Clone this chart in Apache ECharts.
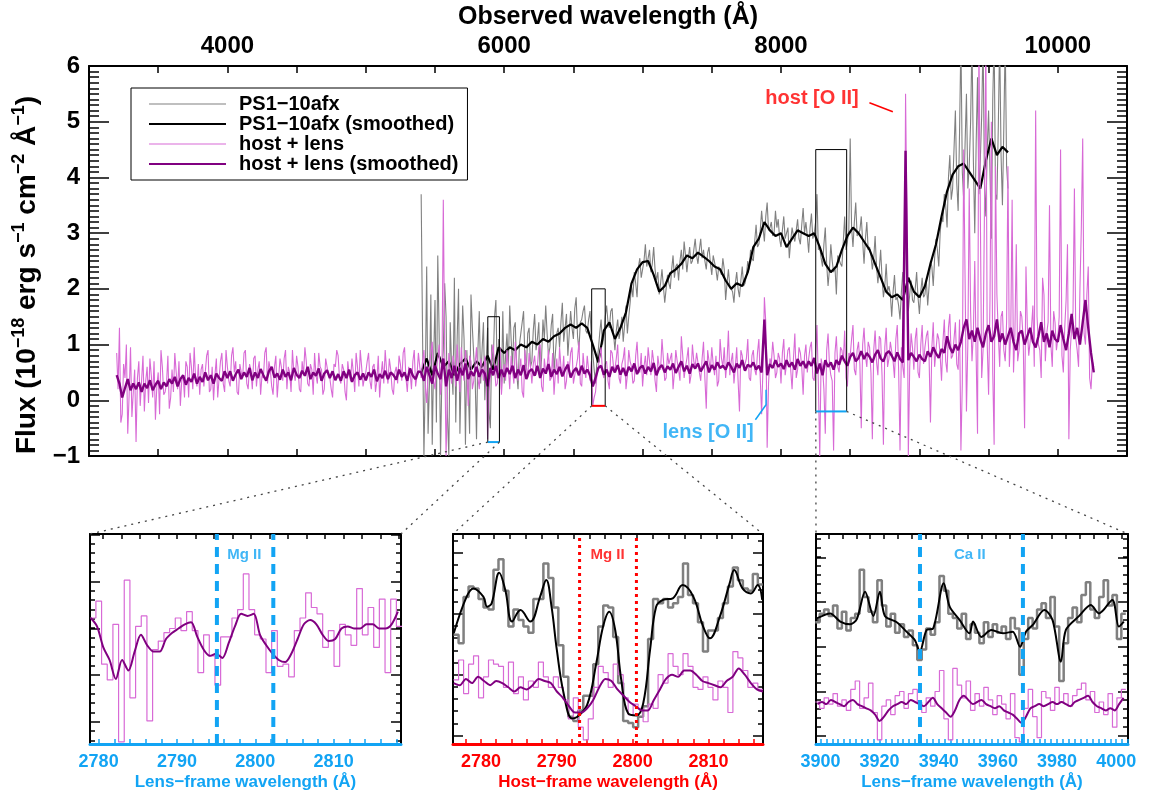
<!DOCTYPE html>
<html>
<head>
<meta charset="utf-8">
<script src="https://cdn.jsdelivr.net/npm/echarts@6/dist/echarts.min.js"></script>
<style>
  html, body { margin: 0; background: #fff; }
  #chart { width: 1152px; height: 798px; }
</style>
</head>
<body>
<div id="chart"></div>
<script>
// ---- main spectrum (observed frame) ----
// raw spectra are read on a 20 A grid plus the in-between 10 A offsets
const HOST_START = 3200, HOST_MID_START = 3210, HOST_STEP = 20;   // host + lens
const SN_START = 5400, SN_MID_START = 5410, SN_STEP = 20;         // PS1-10afx
const SN_SMOOTH_STEP = 40;

const hostRaw = [
  0.85,1.30,-0.25,0.40,-0.60,0.95,0.15,-0.75,0.70,0.35,
  -0.20,0.60,0.75,0.05,-0.35,0.50,0.90,0.10,0.30,-0.15,
  0.55,0.85,0.20,-0.10,0.45,0.70,0.05,0.60,0.95,0.25,
  0.10,0.65,0.50,0.90,0.20,0.00,0.75,0.40,0.85,0.15,
  0.60,0.25,0.95,0.70,0.10,0.50,0.85,0.30,0.65,0.20,
  0.80,0.55,0.10,0.40,0.95,0.70,0.25,0.60,0.05,0.75,
  0.35,0.90,0.60,0.15,0.50,0.80,0.20,0.70,0.95,0.30,
  0.65,0.10,0.45,0.85,0.55,0.20,0.75,0.40,0.05,0.60,
  0.80,0.30,0.55,0.00,0.45,0.75,0.15,0.60,0.90,0.25,
  0.50,0.85,0.20,0.65,0.35,0.05,0.70,0.90,0.30,0.55,
  0.10,0.60,0.80,0.35,0.95,0.15,0.50,0.70,0.25,0.85,
  0.40,0.90,-0.05,0.60,1.05,0.20,0.75,0.10,3.60,-1.00,
  0.85,0.30,0.65,1.00,0.15,0.55,0.90,-0.10,0.70,0.35,
  0.95,0.20,0.60,0.80,-0.70,0.45,1.00,0.25,0.70,0.10,
  0.65,0.90,0.20,0.55,1.05,0.35,0.75,0.05,0.60,0.85,
  0.30,0.80,0.60,1.00,0.15,0.50,0.90,0.40,0.10,0.75,
  0.95,0.45,0.20,0.70,0.85,0.30,0.60,1.05,0.25,0.55,
  0.80,0.35,-0.10,0.15,0.60,0.95,0.40,0.70,0.20,0.85,
  0.55,1.00,0.30,0.75,0.20,0.90,0.60,0.35,1.05,0.50,
  0.25,0.80,0.95,0.45,0.70,0.15,0.60,1.10,0.35,0.85,
  0.65,0.20,0.90,0.55,1.15,0.40,0.75,0.30,1.00,0.60,
  0.85,0.35,1.05,-0.15,0.70,0.95,0.45,0.25,1.10,0.60,
  0.40,1.25,0.70,0.30,0.95,-0.20,0.80,0.55,1.10,0.35,
  0.90,0.45,1.10,-0.25,1.85,-0.85,0.75,1.05,0.40,0.85,
  0.30,1.10,0.65,0.95,0.20,1.20,0.55,0.85,0.10,1.00,
  0.75,1.05,0.35,1.35,-1.00,0.60,-0.60,1.20,0.45,-0.90,
  1.15,0.50,0.90,1.25,0.25,0.80,1.35,0.45,1.05,-0.50,
  1.30,0.60,0.95,-0.70,1.25,0.45,1.10,-0.80,1.30,0.75,
  1.05,0.40,1.35,-0.90,0.60,5.50,-1.00,1.20,0.55,1.30,
  0.40,1.35,0.95,1.25,-0.40,1.40,0.60,1.10,0.35,1.45,
  0.50,1.55,0.80,1.40,0.55,-0.90,4.50,-0.20,3.80,0.70,
  2.50,-0.60,6.50,0.90,6.50,0.10,5.00,-0.80,1.90,0.60,
  1.60,0.70,4.20,1.20,0.50,2.80,0.90,1.50,-0.50,1.30,
  0.80,1.70,5.20,1.00,0.40,1.90,1.20,3.50,0.60,1.40,
  1.10,4.50,0.50,1.80,-0.70,1.30,3.80,0.90,2.00,4.70,
  1.00,2.40,0.20,0.60
];
const hostRawMid = [
  0.20,-0.40,0.65,1.00,0.10,-0.30,0.55,0.40,-0.10,0.80,
  0.35,-0.05,0.45,0.70,0.25,-0.25,0.60,0.15,0.80,0.05,
  0.15,0.50,0.70,0.35,0.05,0.60,0.85,0.20,0.40,0.65,
  0.55,0.25,0.80,0.15,0.60,0.45,0.05,0.70,0.30,0.90,
  0.35,0.80,0.50,0.15,0.65,0.40,0.90,0.20,0.55,0.75,
  0.25,0.70,0.45,0.85,0.30,0.55,0.10,0.80,0.40,0.60,
  0.75,0.20,0.50,0.90,0.35,0.60,0.15,0.45,0.70,0.25,
  0.55,0.85,0.30,0.60,0.10,0.75,0.45,0.20,0.65,0.90,
  0.40,0.65,0.15,0.70,0.35,0.50,0.85,0.25,0.60,0.40,
  0.70,0.35,0.60,0.15,0.80,0.45,0.30,0.55,0.75,0.20,
  0.50,0.30,0.65,0.85,0.40,0.60,0.20,0.90,0.45,0.60,
  0.70,0.25,0.50,0.85,0.35,0.60,1.00,0.40,0.90,0.15,
  0.55,0.80,0.25,0.60,0.95,0.35,0.55,0.80,0.20,0.65,
  0.40,0.75,0.35,0.55,0.15,0.85,0.60,0.30,0.95,0.50,
  0.35,0.60,0.80,0.30,0.70,0.55,0.15,0.90,0.40,0.60,
  0.65,0.45,0.95,0.25,0.75,0.60,0.35,0.85,0.50,0.30,
  0.60,0.80,0.35,0.55,0.95,0.45,0.75,0.30,0.85,0.40,
  0.55,0.70,0.05,0.45,0.80,0.50,0.65,0.35,0.90,0.60,
  0.75,0.40,0.65,0.95,0.45,0.70,0.30,0.80,0.55,0.85,
  0.60,0.45,0.70,0.90,0.35,0.80,0.55,0.75,0.40,0.65,
  0.85,0.50,0.70,0.35,0.80,0.60,0.95,0.45,0.70,0.85,
  0.50,0.75,0.40,0.90,0.55,0.65,0.80,0.35,0.75,0.95,
  0.70,0.45,0.85,0.60,0.35,0.90,0.55,0.75,0.40,0.80,
  0.55,0.85,0.40,0.60,1.40,0.30,0.65,0.80,0.50,0.75,
  0.85,0.45,0.90,0.55,0.75,0.40,0.95,0.60,0.80,0.50,
  0.95,0.40,0.80,0.30,0.75,0.20,0.90,0.65,0.35,0.85,
  0.60,0.95,0.70,0.40,0.85,1.10,0.55,0.90,0.65,1.00,
  0.80,1.05,0.50,0.90,0.70,1.15,0.45,0.95,0.60,1.05,
  0.70,1.10,0.55,0.95,0.40,3.20,0.60,0.95,1.10,0.50,
  1.00,0.65,1.15,0.75,0.95,0.60,1.20,0.80,1.05,0.70,
  1.30,0.75,1.10,0.65,1.45,0.30,2.20,1.00,1.60,1.20,
  0.80,6.50,0.40,3.40,1.00,1.80,0.50,4.20,1.20,1.50,
  0.90,1.40,0.60,3.60,1.20,0.70,1.60,1.10,2.40,0.80,
  1.30,0.60,1.50,0.90,2.20,0.70,1.40,1.00,1.60,0.90,
  1.50,0.80,1.30,2.80,0.90,1.60,1.10,0.60,3.10,1.20,
  1.90,0.40,0.70
];

const hostSmooth = [
  0.45,0.30,0.05,0.22,0.38,0.18,0.30,0.20,0.32,0.15,
  0.30,0.22,0.36,0.18,0.28,0.35,0.20,0.32,0.25,0.38,
  0.30,0.42,0.25,0.38,0.45,0.28,0.40,0.33,0.48,0.30,
  0.42,0.33,0.50,0.36,0.45,0.30,0.48,0.40,0.35,0.52,
  0.40,0.52,0.35,0.47,0.55,0.38,0.50,0.42,0.58,0.36,
  0.50,0.40,0.56,0.45,0.35,0.52,0.60,0.41,0.48,0.37,
  0.55,0.42,0.50,0.36,0.58,0.46,0.40,0.53,0.44,0.60,
  0.38,0.50,0.44,0.57,0.35,0.48,0.54,0.40,0.52,0.36,
  0.47,0.35,0.52,0.40,0.55,0.33,0.45,0.50,0.37,0.48,
  0.36,0.50,0.42,0.55,0.34,0.47,0.40,0.53,0.38,0.50,
  0.45,0.37,0.55,0.42,0.50,0.35,0.57,0.44,0.38,0.52,
  0.50,0.35,0.60,0.45,0.30,0.62,0.48,0.38,0.75,0.25,
  0.55,0.40,0.62,0.35,0.58,0.45,0.66,0.38,0.52,0.44,
  0.60,0.42,0.55,0.48,0.25,0.58,0.45,0.62,0.40,0.55,
  0.42,0.58,0.47,0.62,0.40,0.55,0.45,0.63,0.38,0.52,
  0.56,0.44,0.62,0.40,0.57,0.48,0.65,0.42,0.55,0.47,
  0.60,0.43,0.55,0.64,0.41,0.52,0.58,0.45,0.62,0.48,
  0.55,0.45,0.25,0.40,0.58,0.62,0.46,0.55,0.42,0.60,
  0.50,0.63,0.46,0.58,0.44,0.60,0.52,0.66,0.47,0.58,
  0.62,0.48,0.60,0.52,0.67,0.45,0.58,0.63,0.50,0.61,
  0.55,0.66,0.49,0.60,0.70,0.52,0.62,0.48,0.65,0.57,
  0.66,0.52,0.61,0.70,0.50,0.63,0.55,0.68,0.58,0.62,
  0.55,0.68,0.60,0.50,0.66,0.58,0.72,0.53,0.64,0.60,
  0.68,0.55,0.62,0.50,1.45,0.45,0.65,0.58,0.72,0.60,
  0.66,0.56,0.72,0.60,0.68,0.55,0.74,0.62,0.70,0.58,
  0.70,0.62,0.76,0.48,0.66,0.45,0.72,0.60,0.68,0.55,
  0.72,0.64,0.80,0.70,0.62,0.78,0.85,0.70,0.76,0.88,
  0.74,0.85,0.78,0.68,0.82,0.90,0.75,0.70,0.84,0.88,
  0.80,0.70,0.86,0.74,0.68,4.48,0.72,0.85,0.78,0.70,
  0.82,0.74,0.70,0.88,0.78,0.95,0.84,0.76,0.92,0.85,
  1.15,0.95,0.85,1.00,0.90,1.05,1.30,1.45,1.10,1.25,
  1.05,1.30,1.10,0.95,1.20,1.35,1.05,1.15,1.45,1.05,
  1.20,1.00,1.15,1.30,1.05,0.90,1.20,1.25,1.00,1.15,
  1.30,1.05,0.95,1.15,1.40,1.05,1.20,0.95,1.25,1.10,
  1.05,1.35,1.10,0.90,1.20,1.55,1.10,1.30,1.00,1.40,
  1.80,1.30,0.85,0.50
];

const snRaw = [
  3.70,-1.00,2.40,0.30,-0.80,1.80,2.60,-1.00,0.90,1.50,
  -1.00,0.60,2.20,1.10,-0.60,1.70,-0.80,0.30,1.90,0.80,
  -0.70,1.60,0.90,0.00,1.30,-0.50,0.60,1.80,1.10,0.20,
  0.30,1.20,1.70,0.60,1.40,0.20,1.00,1.60,0.55,1.30,
  0.70,1.55,1.10,0.40,1.45,1.70,0.80,1.35,0.50,1.20,
  0.95,1.75,1.30,0.80,1.60,1.10,1.85,0.90,1.45,1.70,
  1.20,1.60,0.85,0.30,0.90,1.45,1.15,1.70,1.30,1.65,
  0.90,1.45,1.25,1.05,1.70,1.50,2.05,2.30,1.85,2.55,
  2.20,2.80,2.55,2.30,2.75,2.15,1.90,2.35,1.75,2.25,
  2.00,2.60,2.40,2.15,2.70,2.85,2.30,2.75,2.50,2.90,
  2.45,2.90,2.70,2.35,2.75,2.25,2.60,2.15,2.40,2.55,
  1.80,2.35,2.05,1.75,2.30,1.85,2.40,2.10,2.50,2.70,
  2.50,3.15,2.80,3.40,2.85,3.55,3.10,2.95,3.40,3.25,
  2.75,3.30,3.00,2.55,3.10,2.85,3.25,2.80,3.45,3.20,
  2.65,3.35,3.00,3.70,2.75,2.40,3.10,2.05,2.80,2.30,
  1.90,2.60,2.40,3.30,2.85,4.70,2.75,3.55,3.00,3.30,
  2.45,3.20,2.75,2.35,2.95,2.10,2.70,1.85,2.45,2.05,
  1.50,2.25,1.85,1.45,2.30,3.10,1.60,2.15,1.75,2.30,
  1.55,2.20,1.90,1.70,2.50,2.05,2.90,2.40,3.30,3.70,
  3.10,4.40,3.80,5.20,3.40,6.50,3.60,5.50,4.20,6.50,
  3.00,5.80,4.30,6.50,3.30,5.20,2.90,6.50,3.60,6.50,
  3.50,6.50,3.80
];
const snRawMid = [
  1.20,0.40,-0.60,1.90,0.70,-0.40,1.20,0.50,2.10,-0.30,
  1.40,0.10,-0.40,2.00,0.60,1.10,0.90,-0.60,1.30,0.40,
  0.90,0.30,1.40,0.70,-0.20,1.00,1.50,0.40,0.80,1.60,
  0.80,0.60,1.10,1.30,0.50,1.00,1.40,0.70,1.20,0.60,
  1.25,0.90,1.40,0.75,1.10,1.20,0.95,1.55,0.85,1.30,
  1.40,1.05,1.55,1.20,1.30,1.65,1.15,1.40,1.60,1.25,
  1.45,1.10,0.55,0.70,1.20,1.00,1.50,1.40,1.60,1.20,
  1.25,1.10,1.50,1.35,1.20,1.75,1.85,2.10,2.40,2.20,
  2.50,2.40,2.70,2.45,2.35,2.30,2.10,2.05,2.00,2.10,
  2.35,2.20,2.45,2.50,2.35,2.60,2.55,2.45,2.70,2.60,
  2.70,2.55,2.50,2.65,2.45,2.60,2.35,2.40,2.25,2.35,
  2.10,2.05,1.95,2.10,2.00,2.15,2.05,2.25,2.35,2.55,
  2.85,2.75,3.05,3.10,3.30,3.05,3.20,3.00,3.10,2.90,
  3.05,2.90,3.10,2.85,2.95,3.05,2.90,3.15,3.00,2.95,
  3.10,2.90,3.20,2.70,2.55,2.80,2.45,2.35,2.50,2.40,
  2.60,2.45,2.85,2.70,3.05,3.10,3.20,2.95,3.05,2.85,
  2.90,2.70,2.60,2.55,2.40,2.35,2.20,2.05,1.95,1.90,
  1.95,1.80,1.70,1.95,1.85,2.40,1.90,1.80,2.00,1.85,
  1.95,1.85,2.15,2.05,2.40,2.55,2.70,3.00,3.20,3.50,
  4.00,3.60,4.50,3.90,4.80,4.10,4.60,3.80,5.00,4.30,
  4.60,3.70,5.10,3.90,4.50,4.10,5.40,3.70,4.90,4.40,
  4.90,4.20
];

const snSmooth = [
  0.50,0.75,0.45,0.85,0.60,0.70,0.45,0.65,0.75,0.55,
  0.70,0.60,0.80,0.55,0.95,0.85,0.95,0.90,1.00,0.95,
  1.05,1.00,1.10,1.05,1.15,1.20,1.30,1.36,1.30,1.38,
  1.30,1.00,0.68,1.25,1.40,1.10,1.30,1.58,2.10,2.35,
  2.48,2.50,2.25,1.95,2.05,2.28,2.35,2.45,2.60,2.55,
  2.65,2.58,2.50,2.40,2.35,2.15,2.00,2.10,2.05,2.30,
  2.75,2.90,3.20,3.05,2.95,3.00,2.75,2.90,3.05,3.00,
  2.95,3.00,2.75,2.45,2.30,2.40,2.70,2.95,3.10,3.00,
  2.85,2.70,2.45,2.20,1.95,1.85,1.90,1.80,2.20,1.95,
  1.85,2.05,2.45,2.80,3.30,3.75,4.05,4.20,4.25,4.10,
  3.95,3.80,4.30,4.70,4.40,4.55,4.45
];

// ---- zoom panels ----
const LENS_1PZ = 2.1165, HOST_1PZ = 2.3888;
const P1_RANGE = [2778.9, 2818.6], P2_RANGE = [2776.3, 2817.2], P3_RANGE = [3898.5, 4004.0];
const BOX_Y = [[-0.75, 1.5], [-0.1, 2.0], [-0.2, 4.5]];
const P1_LABELS = [2780, 2790, 2800, 2810];
const P2_LABELS = [2780, 2790, 2800, 2810];
const P3_LABELS = [3900, 3920, 3940, 3960, 3980, 4000];
const OBS_LABELS = [4000, 6000, 8000, 10000];
const P1_LINES = [2795.1, 2802.3];   // Mg II, lens frame
const P2_LINES = [2793.0, 2800.5];   // Mg II, host frame
const P3_LINES = [3933.66, 3968.47]; // Ca II, lens frame
const P1_Y_MAJOR = [10.6, 32.9, 55.1, 77.4, 99.7];
const P2_Y_MAJOR = [4, 33, 62, 91];
const P3_Y_MAJOR = [3.8, 25.1, 46.3, 67.6, 88.9];

// panel 1 (lens Mg II): host+lens only
const P1_BIN = [2778.93, 0.7237];
const p1Raw = [60,68,38,30.5,57,1,78,22,56,61, 11,45,49,53,55,60,54,63,54,34,
  52,42,28,51,51,60,64,81,64,52, 50,34,54,37,38,32,54,60,72,65,
  62,46,54,37,57,52,47,74,52,65, 46,69,34,69,56];
const P1_SM = [2779.0, 0.8];
const p1Smooth = [60,56,46,40,31,40,35,44,52,47, 44,44,50,53,55,57,58,51,45,42,
  43,41,48,56,62,61,62,52,47,43, 40,39,43,50,57,59,57,52,49,50,
  55,56,55,55,57,57,55,55,57,63];

// panel 2 (host Mg II)
const P2_BIN = [2776.38, 0.658];
const p2SnRaw = [52,48,70,75,74,69,65,64,83,88, 73,56,64,59,56,53,69,69,86,79,
  65,47,32,13,11,16,23,23,38,56, 66,65,51,29,11,10,8,13,18,50,
  69,67,69,65,67,70,86,71,67,58, 44,54,54,60,67,75,84,78,74,73, 81,76];
const p2HostRaw = [30.5,40,24,38,42,22,32,40,38,37, 27,39,24,32,21,30,27,39,32,27,
  32,27,21,12,22,8,2,12,27,37, 34,27,38,33,22,14,19,17,10.6,19,
  17,33,29,43,37,33,43,37,27,26, 32,27,21,30,27,15,44,41,35,27, 29,26];
const p2SnWave = [2776.4,2778.1,2779.0,2780.3,2780.8,2781.4,2782.4,2783.2,2784.1,2785.2,
  2786.5,2787.8,2788.6,2789.3,2790.0,2790.9,2792.0,2792.6,2794.0,2795.2,
  2796.1,2796.9,2797.7,2798.5,2799.4,2800.5,2801.4,2802.3,2803.1,2804.0,
  2805.3,2806.6,2808.0,2809.3,2810.2,2811.5,2812.8,2813.4,2814.5,2815.6,2816.5,2817.1];
const p2SnSmooth = [52.7,70.2,74.1,70.2,65.4,67,81.6,73.3,58.3,63.8,
  58.3,70.2,78.1,65.4,44.8,24.1,12.2,12.7,18.6,38.4,
  55.9,63,54.3,30.5,14.6,13.6,19.4,44.8,65.4,68.6,
  69.4,75.7,70.2,55.9,50.3,60.6,76.5,82.9,74.1,71.7,75.7,68.6];
const P2_SM = [2776.4, 0.8];
const p2HostSmooth = [29,28,31,29,32,30,28,30,29,27, 25,27,26,28,31,30,29,25,22,18,
  15,15,17,21,27,31,30,26,23,20, 18,16,16,21,26,31,33,32,35,35,
  33,30,29,28,27,30,32,36,33,29, 26,25];

// panel 3 (lens Ca II)
const P3_BIN = [3898.25, 1.5];
const p3SnRaw = [58,62,64,61,66,55,63,54,60,62, 83,70,63,58,78,66,56,62,53,57,
  51,54,47,40,45,55,52,58,80,73, 62,60,55,62,50,57,53,48,58,51,
  57,53,56,50,60,55,33,50,60,55, 64,67,60,70,56,30,48,60,65,58,
  71,77,64,60,70,78,66,71,50,62];
const p3HostRaw = [20,17,22,19,24,18,21,16,26,30, 17,22,29,15,2,18,21,14,23,25,
  17,24,26,20,15,22,18,25,35,12, 2,36,28,22,30,16,24,18,27,21,
  14,23,19,12,24,3,1,17,26,13, 3,25,22,16,27,20,24,18,23,26,
  29,21,25,15,20,14,24,8,22,26];
const p3SnWave = [3898.8,3903.3,3906.7,3910.0,3912.3,3915.1,3917.9,3920.1,3921.8,3925.8,
  3929.1,3931.9,3933.6,3935.9,3938.1,3941.7,3943.7,3947.1,3950.4,3951.6,
  3954.4,3957.8,3961.7,3965.0,3967.5,3969.5,3971.8,3975.7,3978.5,3981.3,
  3983.0,3987.5,3991.4,3994.2,3998.7,4000.9,4002.6];
const p3SnSmooth = [59.8,62.2,58.3,57,59.5,72.5,61,72.5,61,58,
  53.5,49.5,44,54.3,55,76.5,65.4,59,52.7,58.3,
  51,54.3,52.7,53.5,46.3,53.5,56.7,63.8,59,39.2,
  54.3,61,66.2,62.2,68.6,55.9,58.3];
const P3_SM = [3899.0, 1.5];
const p3HostSmooth = [19,20,19,21,20,19,18,20,21,19, 18,17,16,14,11,13,16,18,19,20,
  19,21,20,19,18,20,22,19,17,15, 13,16,21,23,21,19,20,21,19,18,
  17,18,16,15,14,12,10,13,17,18, 19,18,19,20,19,20,19,18,20,21,
  22,23,20,18,17,16,17,16,19,22];

// ---- styles ----
const FONT = '"Liberation Sans", Arial, sans-serif';
const BLUE = '#12a4f4', RED = '#ff0000';
const GRAY = '#808080', ORCHID = '#d86ad6', PURPLE = '#800080';
const THIN_ICON = 'path://M0,0H77V1H0Z', THICK_ICON = 'path://M0,0H38.5V1H0Z';

function sampled(start, step, vals) { return vals.map((v, i) => [start + step * i, v]); }
function merged(a, b) { return a.concat(b).sort((p, q) => p[0] - q[0]); }
function binned(bin, vals) {
  const pts = vals.map((v, i) => [bin[0] + bin[1] * i, v]);
  pts.push([bin[0] + bin[1] * vals.length, vals[vals.length - 1]]);
  return pts;
}
function pairs(xs, ys) { return xs.map((x, i) => [x, ys[i]]); }
function range(a, b, s) { const out = []; for (let v = a; v <= b + 1e-9; v += s) out.push(+v.toFixed(3)); return out; }
function ticksIn(r, s) { return range(Math.ceil(r[0] / s) * s, r[1], s); }
function minorsOf(major) {
  const s = (major[1] - major[0]) / 5;
  let a = major[0]; while (a - s >= 0) a -= s;
  return range(a, 100, s);
}
const plain = v => (v < 0 ? '−' + (-v) : String(v));

const chart = echarts.init(document.getElementById('chart'), null, { renderer: 'canvas' });

const noLine = { show: false };
function mainX(pos, labels) {
  return {
    gridIndex: 0, type: 'value', position: pos, min: 3000, max: 10500, interval: 500,
    axisLine: { onZero: false, lineStyle: { color: '#000', width: 2 } },
    axisTick: { inside: true, length: 7, lineStyle: { color: '#000', width: 1.5 } },
    axisLabel: labels ? { customValues: OBS_LABELS, formatter: plain, fontSize: 24, fontWeight: 'bold', color: '#000', margin: 8, fontFamily: FONT } : { show: false },
    splitLine: noLine
  };
}
function mainY(pos, labels) {
  return {
    gridIndex: 0, type: 'value', position: pos, min: -1, max: 6, interval: 1,
    axisLine: { onZero: false, lineStyle: { color: '#000', width: 2 } },
    axisTick: { inside: true, length: 20, lineStyle: { color: '#000', width: 1.5 } },
    minorTick: { show: true, splitNumber: 10, length: 10, lineStyle: { color: '#000', width: 1.5 } },
    axisLabel: labels ? { formatter: plain, fontSize: 24, fontWeight: 'bold', color: '#000', margin: 9, fontFamily: FONT } : { show: false },
    splitLine: noLine, minorSplitLine: noLine
  };
}
function panelX(gi, r, labels, color, title) {
  return {
    gridIndex: gi, type: 'value', position: 'bottom', min: r[0], max: r[1],
    axisLine: { onZero: false, lineStyle: { color: color, width: 3 } },
    axisTick: { inside: true, length: 5, customValues: ticksIn(r, 2), lineStyle: { color: color, width: 1.5 } },
    axisLabel: { customValues: labels, formatter: plain, color: color, fontSize: 18, fontWeight: 'bold', margin: 9, fontFamily: FONT },
    splitLine: noLine,
    name: title, nameLocation: 'middle', nameGap: 30,
    nameTextStyle: { color: color, fontSize: 17, fontWeight: 'bold', fontFamily: FONT }
  };
}
function panelTop(gi, r, step) {
  return {
    gridIndex: gi, type: 'value', position: 'top', min: r[0], max: r[1],
    axisLine: { onZero: false, lineStyle: { color: '#000', width: 2 } },
    axisTick: { inside: true, length: 5, customValues: ticksIn(r, step), lineStyle: { color: '#000', width: 1.5 } },
    axisLabel: { show: false }, splitLine: noLine
  };
}
function panelY(gi, pos, ticks, len, showLine) {
  return {
    gridIndex: gi, type: 'value', position: pos, min: 0, max: 100,
    axisLine: { show: showLine, onZero: false, lineStyle: { color: '#000', width: 2 } },
    axisTick: { inside: true, length: len, customValues: ticks, lineStyle: { color: '#000', width: 1.5 } },
    axisLabel: { show: false }, splitLine: noLine
  };
}
function panelYs(gi, major) {
  const minor = minorsOf(major);
  return [panelY(gi, 'left', major, 10, true), panelY(gi, 'left', minor, 5, false),
          panelY(gi, 'right', major, 10, true), panelY(gi, 'right', minor, 5, false)];
}

const obs1 = [P1_RANGE[0] * LENS_1PZ, P1_RANGE[1] * LENS_1PZ];
const obs2 = [P2_RANGE[0] * HOST_1PZ, P2_RANGE[1] * HOST_1PZ];
const obs3 = [P3_RANGE[0] * LENS_1PZ, P3_RANGE[1] * LENS_1PZ];
const boxes = [obs1, obs2, obs3];
const boxColors = [BLUE, RED, BLUE];

function line(name, data, color, width, xi, yi, extra) {
  return Object.assign({
    name: name, type: 'line', data: data, xAxisIndex: xi, yAxisIndex: yi,
    symbol: 'none', showSymbol: false, silent: true, sampling: null,
    lineStyle: { color: color, width: width }, itemStyle: { color: color }, z: 2
  }, extra || {});
}
function textMark(text, pt, color, size, xi, yi) {
  return {
    type: 'scatter', data: [pt], xAxisIndex: xi, yAxisIndex: yi, symbolSize: 0, silent: true, z: 5,
    label: { show: true, position: 'inside', formatter: text, color: color, fontSize: size, fontWeight: 'bold', fontFamily: FONT }
  };
}

const series = [
  line('PS1−10afx', merged(sampled(SN_START, SN_STEP, snRaw), sampled(SN_MID_START, SN_STEP, snRawMid)), GRAY, 1.1, 0, 0),
  line('PS1−10afx (smoothed)', sampled(SN_START, SN_SMOOTH_STEP, snSmooth), '#000', 2.2, 0, 0),
  line('host + lens', merged(sampled(HOST_START, HOST_STEP, hostRaw), sampled(HOST_MID_START, HOST_STEP, hostRawMid)), ORCHID, 1.1, 0, 0),
  line('host + lens (smoothed)', sampled(HOST_START, HOST_STEP, hostSmooth), PURPLE, 2.4, 0, 0)
];
boxes.forEach((b, i) => {
  const y = BOX_Y[i];
  series.push(line('box' + i, [[b[0], y[0]], [b[0], y[1]], [b[1], y[1]], [b[1], y[0]]], '#000', 1, 0, 0, { z: 4 }));
  series.push(line('boxbase' + i, [[b[0], y[0]], [b[1], y[0]]], boxColors[i], 2, 0, 0, { z: 4 }));
});
series.push(line('hostptr', [[8639, 5.34], [8808, 5.18]], RED, 1.5, 0, 0, { z: 4 }));
series.push(textMark('host [O II]', [8224, 5.41], RED, 20, 0, 0));
series.push(line('lensptr', [[7892, 0.19], [7892, -0.08], [7815, -0.35]], BLUE, 1.5, 0, 0, { z: 4 }));
series.push(textMark('lens [O II]', [7473, -0.58], BLUE, 20, 0, 0));

// panel 1
series.push(line('p1 host', binned(P1_BIN, p1Raw), ORCHID, 1.2, 2, 2, { step: 'end' }));
series.push(line('p1 host sm', sampled(P1_SM[0], P1_SM[1], p1Smooth), PURPLE, 2, 2, 2, { smooth: 0.3 }));
P1_LINES.forEach(w => series.push(line('p1 mg', [[w, 0], [w, 100]], BLUE, 4, 2, 2, { z: 6, lineStyle: { color: BLUE, width: 4, type: [10, 7] } })));
series.push(textMark('Mg II', [2798.6, 90], BLUE, 15, 2, 2));
// panel 2
series.push(line('p2 sn', binned(P2_BIN, p2SnRaw), GRAY, 2.5, 4, 6, { step: 'end' }));
series.push(line('p2 host', binned(P2_BIN, p2HostRaw), ORCHID, 1.2, 4, 6, { step: 'end' }));
series.push(line('p2 sn sm', pairs(p2SnWave, p2SnSmooth), '#000', 2, 4, 6, { smooth: 0.4 }));
series.push(line('p2 host sm', sampled(P2_SM[0], P2_SM[1], p2HostSmooth), PURPLE, 2, 4, 6, { smooth: 0.3 }));
P2_LINES.forEach(w => series.push(line('p2 mg', [[w, 0], [w, 100]], RED, 3, 4, 6, { z: 6, lineStyle: { color: RED, width: 3, type: [3, 4] } })));
series.push(textMark('Mg II', [2796.7, 90], RED, 15, 4, 6));
// panel 3
series.push(line('p3 sn', binned(P3_BIN, p3SnRaw), GRAY, 2.5, 6, 10, { step: 'end' }));
series.push(line('p3 host', binned(P3_BIN, p3HostRaw), ORCHID, 1.2, 6, 10, { step: 'end' }));
series.push(line('p3 sn sm', pairs(p3SnWave, p3SnSmooth), '#000', 2, 6, 10, { smooth: 0.3 }));
series.push(line('p3 host sm', sampled(P3_SM[0], P3_SM[1], p3HostSmooth), PURPLE, 2, 6, 10, { smooth: 0.3 }));
P3_LINES.forEach(w => series.push(line('p3 ca', [[w, 0], [w, 100]], BLUE, 4, 6, 10, { z: 6, lineStyle: { color: BLUE, width: 4, type: [10, 7] } })));
series.push(textMark('Ca II', [3950.5, 90], BLUE, 15, 6, 10));

const fluxName = '{a|Flux (10}{s|−18}{a| erg s}{s|−1}{a| cm}{s|−2}{a| Å}{s|−1}{a|)}';
const yMain = mainY('left', true);
yMain.name = fluxName;
yMain.nameLocation = 'middle';
yMain.nameGap = 40;
yMain.nameTextStyle = {
  padding: [0, 28, 0, 0],
  rich: {
    a: { fontSize: 28, fontWeight: 'bold', color: '#000', fontFamily: FONT, lineHeight: 35 },
    s: { fontSize: 18, fontWeight: 'bold', color: '#000', fontFamily: FONT, lineHeight: 18, verticalAlign: 'top' }
  }
};
const xTop = mainX('top', true);
xTop.name = 'Observed wavelength (Å)';
xTop.nameLocation = 'middle';
xTop.nameGap = 36;
xTop.nameTextStyle = { fontSize: 25, fontWeight: 'bold', color: '#000', fontFamily: FONT };

const option = {
  animation: false,
  backgroundColor: '#fff',
  textStyle: { fontFamily: FONT },
  grid: [
    { left: 89, top: 66, width: 1038, height: 390 },
    { left: 90, top: 534, width: 311, height: 210 },
    { left: 453, top: 534, width: 310, height: 210 },
    { left: 816, top: 534, width: 312, height: 210 }
  ],
  legend: {
    left: 131, top: 88, orient: 'vertical', selectedMode: false,
    data: [
      { name: 'PS1−10afx', icon: THIN_ICON },
      { name: 'PS1−10afx (smoothed)', icon: THICK_ICON },
      { name: 'host + lens', icon: THIN_ICON },
      { name: 'host + lens (smoothed)', icon: THICK_ICON }
    ],
    itemWidth: 77, itemHeight: 12, itemGap: 0, symbolKeepAspect: true,
    padding: [6, 9, 6, 18],
    borderColor: '#000', borderWidth: 1, backgroundColor: '#fff',
    textStyle: { fontSize: 20, fontWeight: 'bold', color: '#000', fontFamily: FONT, lineHeight: 19.7, padding: [0, 0, 0, 8] }
  },
  xAxis: [
    mainX('bottom', false), xTop,
    panelX(1, P1_RANGE, P1_LABELS, BLUE, 'Lens−frame wavelength (Å)'), panelTop(1, obs1, 5),
    panelX(2, P2_RANGE, P2_LABELS, RED, 'Host−frame wavelength (Å)'), panelTop(2, obs2, 5),
    panelX(3, P3_RANGE, P3_LABELS, BLUE, 'Lens−frame wavelength (Å)'), panelTop(3, obs3, 10)
  ],
  yAxis: [yMain, mainY('right', false)]
    .concat(panelYs(1, P1_Y_MAJOR), panelYs(2, P2_Y_MAJOR), panelYs(3, P3_Y_MAJOR)),
  series: series
};
chart.setOption(option);

// dotted connectors from each box to its zoom panel
const panelAxes = [[2, 2, P1_RANGE], [4, 6, P2_RANGE], [6, 10, P3_RANGE]];
const graphics = [];
boxes.forEach((b, i) => {
  const [xi, yi, r] = panelAxes[i];
  const ends = [[b[0], r[0]], [b[1], r[1]]];
  ends.forEach(([bx, px]) => {
    const p0 = chart.convertToPixel({ xAxisIndex: 0, yAxisIndex: 0 }, [bx, BOX_Y[i][0]]);
    const p1 = chart.convertToPixel({ xAxisIndex: xi, yAxisIndex: yi }, [px, 100]);
    graphics.push({
      type: 'line', z: 50, silent: true,
      shape: { x1: p0[0], y1: p0[1], x2: p1[0], y2: p1[1] },
      style: { stroke: '#444', lineWidth: 1.3, lineDash: [2, 5] }
    });
  });
});
chart.setOption({ graphic: graphics });
</script>
</body>
</html>
